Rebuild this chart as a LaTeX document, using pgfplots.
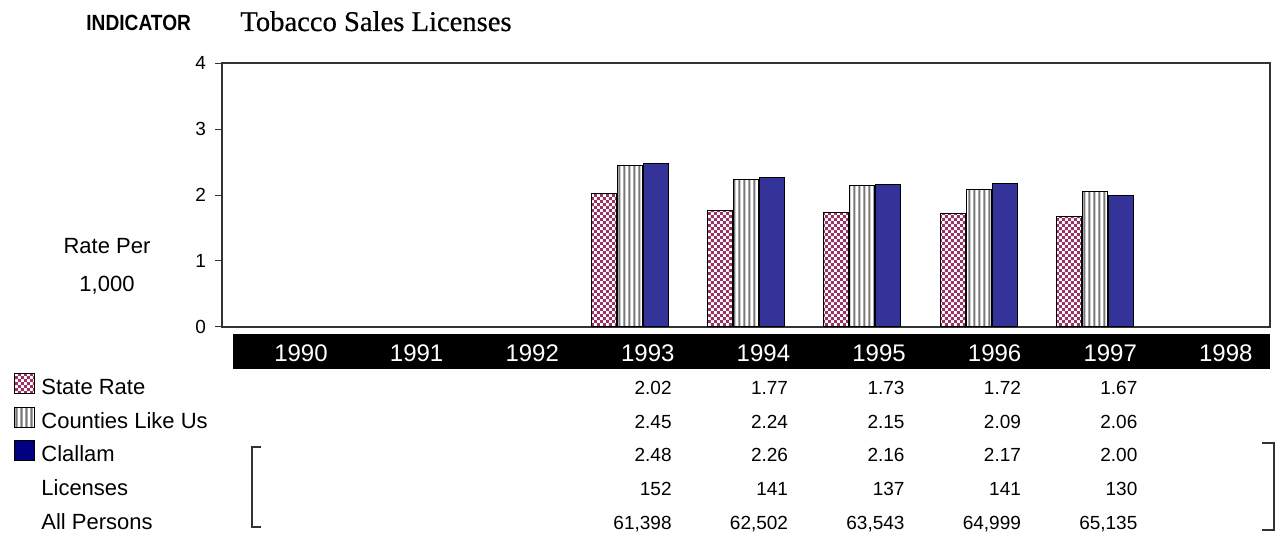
\documentclass[border=0pt]{standalone}
\usepackage{fontspec}
\setmainfont{Liberation Sans}
\newfontfamily\titlefont[FakeBold=0.6]{Liberation Serif}
\newfontfamily\indfont[FakeStretch=0.87]{Liberation Sans Bold}
\usepackage{pgfplots}
\pgfplotsset{compat=1.18}
\usetikzlibrary{patterns}
\definecolor{plum}{RGB}{153,51,102}
\definecolor{indigo}{RGB}{51,51,153}
\definecolor{navy}{RGB}{0,0,128}
\definecolor{stripegray}{RGB}{120,120,120}
\pgfdeclarepatternformonly{checks}{\pgfpointorigin}{\pgfqpoint{3.2pt}{3.2pt}}{\pgfqpoint{3.2pt}{3.2pt}}{%
 \pgfpathrectangle{\pgfpointorigin}{\pgfqpoint{1.6pt}{1.6pt}}%
 \pgfpathrectangle{\pgfqpoint{1.6pt}{1.6pt}}{\pgfqpoint{1.6pt}{1.6pt}}%
 \pgfusepath{fill}}
\pgfdeclarepatternformonly{vstripes}{\pgfpointorigin}{\pgfqpoint{2.6pt}{300pt}}{\pgfqpoint{2.6pt}{300pt}}{%
 \pgfpathrectangle{\pgfqpoint{0.2pt}{0pt}}{\pgfqpoint{1.2pt}{300pt}}\pgfusepath{fill}}
\begin{document}
\begin{tikzpicture}
\path[use as bounding box] (0,0) rectangle (638.5pt,270pt);
\begin{axis}[at={(111pt,106.5pt)}, anchor=south west, scale only axis,
  width=524pt, height=132pt,
  xmin=-0.5, xmax=8.5, ymin=0, ymax=4,
  ytick={0,1,2,3,4}, xtick=\empty, ytick pos=left, tick align=outside,
  major tick length=3.5pt, tick style={black!80, line width=0.5pt},
  axis line style={black!80, line width=0.7pt},
  yticklabel style={font=\fontsize{9.5}{10}\selectfont, xshift=-1pt},
  /pgf/number format/assume math mode=true,
  ybar=0.5pt, bar width=12.5pt, clip=false]
\addplot[draw=black, line width=0.5pt, pattern=checks, pattern color=plum]
  coordinates {(3,2.02) (4,1.77) (5,1.73) (6,1.72) (7,1.67)};
\addplot[draw=black, line width=0.5pt, pattern=vstripes, pattern color=stripegray]
  coordinates {(3,2.45) (4,2.24) (5,2.15) (6,2.09) (7,2.06)};
\addplot[draw=black, line width=0.5pt, fill=indigo]
  coordinates {(3,2.48) (4,2.26) (5,2.16) (6,2.17) (7,2.00)};
\end{axis}
\begin{scope}[yshift=270pt, x=0.5pt, y=-0.5pt, every node/.style={inner sep=0pt}]
% title
\node[anchor=base west, font=\indfont\fontsize{11}{13}\selectfont] at (86,31) {INDICATOR};
\node[anchor=base west, font=\titlefont\fontsize{14.3}{16}\selectfont] at (240,31) {Tobacco Sales Licenses};
% y label
\node[anchor=base, font=\fontsize{11}{13}\selectfont] at (107,254) {Rate Per};
\node[anchor=base, font=\fontsize{11}{13}\selectfont] at (107,292) {1,000};
% year band
\fill[black] (233,334) rectangle (1270,369);
\foreach \yr [count=\i from 0] in {1990,1991,1992,1993,1994,1995,1996,1997,1998}
  {\node[white, anchor=base, font=\fontsize{12}{14}\selectfont] at ({301+\i*115.6},362) {\yr};}
% legend
\draw[black, line width=0.5pt, pattern=checks, pattern color=plum] (14,374) rectangle (34,394);
\draw[black, line width=0.5pt, pattern=vstripes, pattern color=stripegray] (14,408) rectangle (34,428);
\draw[black, line width=0.5pt, fill=navy] (14,441) rectangle (34,461);
\node[anchor=base west, font=\fontsize{11}{13}\selectfont] at (41,395) {State Rate};
\node[anchor=base west, font=\fontsize{11}{13}\selectfont] at (41,428.5) {Counties Like Us};
\node[anchor=base west, font=\fontsize{11}{13}\selectfont] at (41,462) {Clallam};
\node[anchor=base west, font=\fontsize{11}{13}\selectfont] at (41,495.5) {Licenses};
\node[anchor=base west, font=\fontsize{11}{13}\selectfont] at (41,529) {All Persons};
% table
\foreach \v [count=\i from 0] in {2.02,1.77,1.73,1.72,1.67}
  {\node[anchor=base east, font=\fontsize{9.5}{11}\selectfont] at ({672+\i*116.44},395) {\v};}
\foreach \v [count=\i from 0] in {2.45,2.24,2.15,2.09,2.06}
  {\node[anchor=base east, font=\fontsize{9.5}{11}\selectfont] at ({672+\i*116.44},428.5) {\v};}
\foreach \v [count=\i from 0] in {2.48,2.26,2.16,2.17,2.00}
  {\node[anchor=base east, font=\fontsize{9.5}{11}\selectfont] at ({672+\i*116.44},462) {\v};}
\foreach \v [count=\i from 0] in {152,141,137,141,130}
  {\node[anchor=base east, font=\fontsize{9.5}{11}\selectfont] at ({672+\i*116.44},495.5) {\v};}
\foreach \v [count=\i from 0] in {{61,398},{62,502},{63,543},{64,999},{65,135}}
  {\node[anchor=base east, font=\fontsize{9.5}{11}\selectfont] at ({672+\i*116.44},529) {\v};}
% brackets
\draw[black!80, line width=0.6pt] (261,447) -- (252,447) -- (252,527) -- (261,527);
\draw[black!80, line width=0.6pt] (1262,443) -- (1274,443) -- (1274,530) -- (1262,530);
\end{scope}
\end{tikzpicture}
\end{document}
